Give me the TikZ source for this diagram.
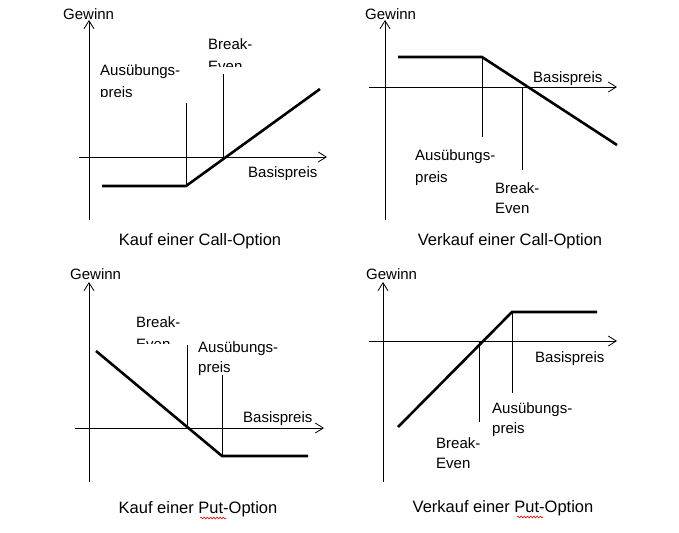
\documentclass[tikz,border=0pt]{standalone}
\usepackage{fontspec}
\setmainfont{Liberation Sans}
\usetikzlibrary{arrows.meta,decorations.pathmorphing}
\begin{document}
\begin{tikzpicture}[x=1pt,y=-1pt,
  axis/.style={line width=0.8pt,-{Straight Barb[length=8pt,width=10pt]}},
  payoff/.style={line width=2.6pt},
  guide/.style={line width=0.8pt},
  lbl/.style={anchor=base west,inner sep=0pt,font=\fontsize{15}{18}\selectfont},
  capt/.style={anchor=base,inner sep=0pt,font=\fontsize{16.5}{20}\selectfont},
  squig/.style={red,line width=0.6pt,decorate,decoration={snake,amplitude=0.9pt,segment length=3.2pt}}]
\useasboundingbox[fill=white] (0,0) rectangle (679,532);

% ---------- top left: Kauf einer Call-Option ----------
\coordinate (a1y0) at (89,220); \coordinate (a1y1) at (89,20);
\coordinate (a1x0) at (79,157); \coordinate (a1x1) at (327,157);
\draw[axis] (a1y0) -- (a1y1);
\draw[axis] (a1x0) -- (a1x1);
\coordinate (p1a) at (102,186); \coordinate (p1b) at (186,186); \coordinate (p1c) at (320,89);
\draw[payoff] (p1a) -- (p1b) -- (p1c);
\coordinate (s1t) at (186,103); \draw[guide] (s1t) -- (p1b);
\coordinate (b1t) at (223,74); \coordinate (b1b) at (223,157); \draw[guide] (b1t) -- (b1b);
\node[lbl] (g1) at (63,20) {Gewinn};
\node[lbl] (bp1) at (248,177) {Basispreis};
\node[lbl] (br1) at (208,50) {Break-};
\begin{scope}\clip (200,55) rectangle (270,67);
\node[lbl] (ev1) at (208,72) {Even};\end{scope}
\node[lbl] (au1) at (100,76) {Ausübungs-};
\begin{scope}\clip (95,80) rectangle (170,96.5);
\node[lbl] (pr1) at (100,97.5) {preis};\end{scope}
\node[capt] (c1) at (200,245) {Kauf einer Call-Option};

% ---------- top right: Verkauf einer Call-Option ----------
\coordinate (a2y0) at (385,220); \coordinate (a2y1) at (385,20);
\coordinate (a2x0) at (369,87); \coordinate (a2x1) at (617,87);
\draw[axis] (a2y0) -- (a2y1);
\draw[axis] (a2x0) -- (a2x1);
\coordinate (p2a) at (398,57); \coordinate (p2b) at (482,57); \coordinate (p2c) at (617,145);
\draw[payoff] (p2a) -- (p2b) -- (p2c);
\coordinate (s2b) at (482,137); \draw[guide] (p2b) -- (s2b);
\coordinate (b2t) at (522,87); \coordinate (b2b) at (522,170); \draw[guide] (b2t) -- (b2b);
\node[lbl] (g2) at (365,20) {Gewinn};
\node[lbl] (bp2) at (533,83) {Basispreis};
\node[lbl] (au2) at (415,160) {Ausübungs-};
\node[lbl] (pr2) at (415,182) {preis};
\node[lbl] (br2) at (495,193) {Break-};
\node[lbl] (ev2) at (495,213) {Even};
\node[capt] (c2) at (510,245) {Verkauf einer Call-Option};

% ---------- bottom left: Kauf einer Put-Option ----------
\coordinate (a3y0) at (89,482); \coordinate (a3y1) at (89,282);
\coordinate (a3x0) at (75,428); \coordinate (a3x1) at (324,428);
\draw[axis] (a3y0) -- (a3y1);
\draw[axis] (a3x0) -- (a3x1);
\coordinate (p3a) at (96,351); \coordinate (p3b) at (222,456); \coordinate (p3c) at (308,456);
\draw[payoff] (p3a) -- (p3b) -- (p3c);
\coordinate (b3t) at (187,345); \coordinate (b3b) at (187,428); \draw[guide] (b3t) -- (b3b);
\coordinate (s3t) at (222,375); \draw[guide] (s3t) -- (p3b);
\node[lbl] (g3) at (70,279) {Gewinn};
\node[lbl] (bp3) at (243,422) {Basispreis};
\node[lbl] (br3) at (136,327) {Break-};
\begin{scope}\clip (130,330) rectangle (200,343);
\node[lbl] (ev3) at (136,349) {Even};\end{scope}
\node[lbl] (au3) at (198,352) {Ausübungs-};
\node[lbl] (pr3) at (198,372) {preis};
\node[capt] (c3) at (198,513) {Kauf einer Put-Option};
\coordinate (q3a) at (200,518); \coordinate (q3b) at (226,518);
\draw[squig] (q3a) -- (q3b);

% ---------- bottom right: Verkauf einer Put-Option ----------
\coordinate (a4y0) at (383,482); \coordinate (a4y1) at (383,282);
\coordinate (a4x0) at (369,341); \coordinate (a4x1) at (617,341);
\draw[axis] (a4y0) -- (a4y1);
\draw[axis] (a4x0) -- (a4x1);
\coordinate (p4a) at (398,427); \coordinate (p4b) at (512,312); \coordinate (p4c) at (597,312);
\draw[payoff] (p4a) -- (p4b) -- (p4c);
\coordinate (b4t) at (479,341); \coordinate (b4b) at (479,422); \draw[guide] (b4t) -- (b4b);
\coordinate (s4b) at (512,393); \draw[guide] (p4b) -- (s4b);
\node[lbl] (g4) at (366,279) {Gewinn};
\node[lbl] (bp4) at (535,362) {Basispreis};
\node[lbl] (au4) at (492,413) {Ausübungs-};
\node[lbl] (pr4) at (492,433) {preis};
\node[lbl] (br4) at (436,448) {Break-};
\node[lbl] (ev4) at (436,468) {Even};
\node[capt] (c4) at (503,512) {Verkauf einer Put-Option};
\coordinate (q4a) at (517,517); \coordinate (q4b) at (543,517);
\draw[squig] (q4a) -- (q4b);
\end{tikzpicture}
\end{document}
